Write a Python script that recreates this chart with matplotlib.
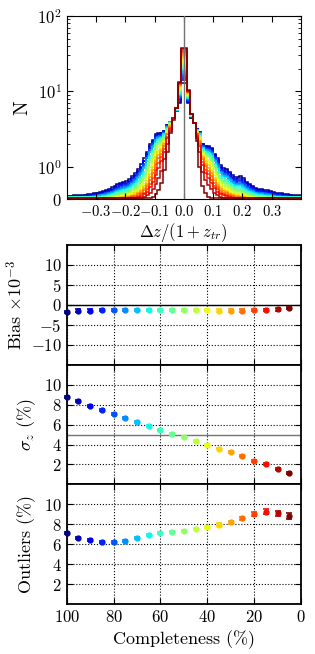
import numpy as np
import matplotlib
matplotlib.use('Agg')
import matplotlib.pyplot as plt
from matplotlib.ticker import FixedLocator, NullFormatter

# completeness levels, one colour each (jet)
completeness = [100, 95, 90, 85, 80, 75, 70, 65, 60, 55, 50, 45, 40, 35, 30, 25, 20, 15, 10, 5]

bias = [-1.8, -1.4, -1.4, -1.3, -1.25, -1.25, -1.25, -1.25, -1.25, -1.25,
        -1.3, -1.3, -1.3, -1.4, -1.4, -1.4, -1.3, -1.25, -1.1, -0.8]
bias_err = [0.3] * 20
sigma = [8.83, 8.33, 7.87, 7.47, 7.07, 6.67, 6.27, 5.87, 5.47, 5.1,
         4.73, 4.37, 4.0, 3.6, 3.2, 2.8, 2.37, 2.0, 1.53, 1.1]
sigma_err = [0.1] * 20
outliers = [7.17, 6.63, 6.4, 6.23, 6.23, 6.37, 6.63, 6.9, 7.1, 7.23,
            7.37, 7.57, 7.73, 7.97, 8.2, 8.6, 9.07, 9.27, 9.1, 8.83]
outliers_err = [0.1, 0.1, 0.1, 0.1, 0.1, 0.1, 0.1, 0.1, 0.1, 0.1,
                0.1, 0.1, 0.1, 0.12, 0.14, 0.16, 0.2, 0.22, 0.27, 0.33]

# histogram counts, bins of 0.01, listed from dz=0 outwards (left wing / right wing)
hl_100 = [13, 7, 5.5, 4.5, 4.0, 3.6, 3.0, 2.8, 2.8, 2.7, 2.3, 2.0, 1.6, 1.3, 1.1, 0.95, 0.82, 0.72, 0.62, 0.56,
          0.55, 0.52, 0.47, 0.42, 0.37, 0.33, 0.28, 0.25, 0.22, 0.2, 0.18, 0.16, 0.15, 0.14, 0.13, 0.13, 0.12, 0.12, 0.11, 0.1]
hr_100 = [13, 7, 4.5, 3.8, 3.2, 2.9, 2.0, 1.9, 1.9, 1.8, 1.5, 1.3, 1.05, 0.97, 0.95, 0.85, 0.75, 0.68, 0.7, 0.72,
          0.65, 0.55, 0.47, 0.42, 0.36, 0.33, 0.32, 0.3, 0.29, 0.27, 0.22, 0.2, 0.19, 0.18, 0.17, 0.15, 0.14, 0.13, 0.12, 0.12]
hl_95 = [14, 7.3, 5.5, 4.5, 4.0, 3.6, 3.0, 2.8, 2.7, 2.6, 2.2, 1.9, 1.5, 1.2, 1.0, 0.88, 0.76, 0.67, 0.58, 0.52,
         0.51, 0.48, 0.43, 0.38, 0.33, 0.29, 0.25, 0.22, 0.19, 0.18, 0.16, 0.14, 0.13, 0.12, 0.11, 0.11, 0.1, 0.1, 0.092, 0.09]
hr_95 = [14, 7.2, 4.5, 3.8, 3.2, 2.9, 2.0, 1.9, 1.85, 1.75, 1.45, 1.25, 1.0, 0.92, 0.9, 0.8, 0.7, 0.63, 0.65, 0.66,
         0.6, 0.5, 0.43, 0.38, 0.32, 0.29, 0.28, 0.26, 0.25, 0.23, 0.19, 0.17, 0.16, 0.15, 0.14, 0.13, 0.12, 0.11, 0.1, 0.1]
hl_90 = [15, 7.7, 5.5, 4.5, 4.0, 3.5, 2.9, 2.7, 2.7, 2.5, 2.1, 1.8, 1.5, 1.2, 0.98, 0.84, 0.72, 0.63, 0.53, 0.48,
         0.46, 0.43, 0.39, 0.34, 0.3, 0.26, 0.22, 0.2, 0.17, 0.15, 0.14, 0.12, 0.11, 0.1, 0.095, 0.094, 0.087, 0.086, 0.085, 0.085]
hr_90 = [15, 7.4, 4.6, 3.8, 3.2, 2.8, 1.9, 1.8, 1.8, 1.7, 1.4, 1.2, 0.96, 0.87, 0.85, 0.75, 0.66, 0.59, 0.6, 0.61,
         0.55, 0.46, 0.39, 0.34, 0.29, 0.26, 0.25, 0.24, 0.23, 0.21, 0.17, 0.15, 0.14, 0.13, 0.12, 0.11, 0.1, 0.092, 0.085, 0.085]
hl_85 = [16, 8.0, 5.6, 4.5, 3.9, 3.5, 2.9, 2.6, 2.6, 2.5, 2.1, 1.8, 1.4, 1.1, 0.93, 0.79, 0.67, 0.58, 0.49, 0.44,
         0.43, 0.4, 0.35, 0.31, 0.27, 0.24, 0.2, 0.17, 0.15, 0.135, 0.12, 0.105, 0.097, 0.089, 0.081, 0.08, 0.08, 0.08, 0.08, 0.08]
hr_85 = [16, 7.5, 4.6, 3.8, 3.15, 2.8, 1.9, 1.8, 1.76, 1.64, 1.35, 1.15, 0.92, 0.83, 0.8, 0.71, 0.62, 0.55, 0.56, 0.57,
         0.5, 0.42, 0.35, 0.31, 0.26, 0.24, 0.23, 0.21, 0.2, 0.18, 0.15, 0.13, 0.12, 0.11, 0.106, 0.093, 0.085, 0.08, 0.08, 0.08]
hl_80 = [17, 8.4, 5.6, 4.5, 3.9, 3.5, 2.8, 2.6, 2.5, 2.4, 2.0, 1.7, 1.3, 1.06, 0.88, 0.75, 0.63, 0.54, 0.46, 0.41,
         0.39, 0.36, 0.32, 0.28, 0.24, 0.21, 0.18, 0.15, 0.13, 0.12, 0.104, 0.091, 0.084, 0.076, 0.075, 0.075, 0.075, 0.075, 0.075, 0.075]
hr_80 = [17, 7.7, 4.6, 3.8, 3.1, 2.8, 1.9, 1.75, 1.7, 1.6, 1.3, 1.1, 0.88, 0.79, 0.76, 0.67, 0.58, 0.51, 0.52, 0.52,
         0.46, 0.38, 0.32, 0.28, 0.24, 0.21, 0.2, 0.18, 0.17, 0.16, 0.13, 0.11, 0.106, 0.098, 0.09, 0.08, 0.075, 0.075, 0.075, 0.075]
hl_75 = [18, 8.7, 5.7, 4.5, 3.9, 3.4, 2.8, 2.5, 2.5, 2.3, 1.9, 1.6, 1.3, 1.0, 0.83, 0.7, 0.59, 0.51, 0.42, 0.37,
         0.36, 0.33, 0.29, 0.25, 0.22, 0.19, 0.16, 0.14, 0.12, 0.1, 0.091, 0.079, 0.072, 0.07, 0.07, 0.07, 0.07, 0.07, 0.07, 0.07]
hr_75 = [18, 7.9, 4.7, 3.8, 3.1, 2.8, 1.85, 1.7, 1.7, 1.55, 1.25, 1.06, 0.84, 0.75, 0.72, 0.63, 0.54, 0.48, 0.48, 0.48,
         0.42, 0.35, 0.29, 0.25, 0.21, 0.19, 0.18, 0.16, 0.15, 0.14, 0.11, 0.098, 0.091, 0.084, 0.078, 0.07, 0.07, 0.07, 0.07, 0.07]
hl_70 = [19, 9.0, 5.7, 4.5, 3.9, 3.4, 2.7, 2.5, 2.4, 2.25, 1.86, 1.57, 1.2, 0.96, 0.79, 0.66, 0.55, 0.47, 0.39, 0.34,
         0.33, 0.3, 0.26, 0.23, 0.2, 0.17, 0.14, 0.12, 0.1, 0.09, 0.079, 0.068, 0.066, 0.066, 0.066, 0.066, 0.066, 0.066, 0.066, 0.066]
hr_70 = [19, 8.1, 4.7, 3.8, 3.1, 2.7, 1.8, 1.7, 1.6, 1.5, 1.2, 1.0, 0.8, 0.71, 0.68, 0.59, 0.5, 0.44, 0.44, 0.44,
         0.39, 0.32, 0.26, 0.23, 0.19, 0.17, 0.16, 0.14, 0.135, 0.12, 0.097, 0.085, 0.078, 0.072, 0.067, 0.066, 0.066, 0.066, 0.066, 0.066]
hl_65 = [20, 9.4, 5.7, 4.5, 3.8, 3.3, 2.7, 2.4, 2.3, 2.1, 1.7, 1.4, 1.1, 0.86, 0.7, 0.58, 0.48, 0.41, 0.34, 0.29,
         0.28, 0.25, 0.22, 0.19, 0.16, 0.13, 0.11, 0.094, 0.079, 0.069, 0.062, 0.062, 0.062, 0.062, 0.062, 0.062, 0.062, 0.062, 0.062, 0.062]
hr_65 = [20, 8.3, 4.7, 3.8, 3.1, 2.7, 1.8, 1.6, 1.55, 1.4, 1.1, 0.94, 0.73, 0.65, 0.61, 0.52, 0.44, 0.38, 0.38, 0.37,
         0.33, 0.26, 0.22, 0.19, 0.15, 0.13, 0.125, 0.11, 0.1, 0.093, 0.073, 0.064, 0.062, 0.062, 0.062, 0.062, 0.062, 0.062, 0.062, 0.062]
hl_60 = [21, 9.7, 5.8, 4.5, 3.8, 3.2, 2.6, 2.3, 2.2, 2.0, 1.6, 1.3, 1.0, 0.78, 0.63, 0.51, 0.42, 0.35, 0.29, 0.25,
         0.23, 0.21, 0.18, 0.15, 0.13, 0.11, 0.086, 0.073, 0.061, 0.058, 0.058, 0.058, 0.058, 0.058, 0.058, 0.058, 0.058, 0.058, 0.058, 0.058]
hr_60 = [21, 8.4, 4.8, 3.8, 3.0, 2.6, 1.7, 1.55, 1.5, 1.3, 1.05, 0.86, 0.66, 0.58, 0.54, 0.46, 0.38, 0.33, 0.32, 0.32,
         0.27, 0.22, 0.18, 0.15, 0.12, 0.11, 0.098, 0.088, 0.08, 0.07, 0.058, 0.058, 0.058, 0.058, 0.058, 0.058, 0.058, 0.058, 0.058, 0.058]
hl_55 = [22, 10, 5.8, 4.5, 3.8, 3.2, 2.5, 2.2, 2.1, 1.9, 1.5, 1.25, 0.94, 0.72, 0.58, 0.47, 0.38, 0.32, 0.26, 0.22,
         0.2, 0.18, 0.15, 0.13, 0.11, 0.091, 0.073, 0.062, 0.055, 0.055, 0.055, 0.055, 0.055, 0.055, 0.055, 0.055, 0.055, 0.055, 0.055, 0.055]
hr_55 = [22, 8.6, 4.8, 3.8, 3.0, 2.6, 1.7, 1.5, 1.4, 1.27, 1.0, 0.81, 0.62, 0.54, 0.5, 0.42, 0.35, 0.3, 0.29, 0.28,
         0.24, 0.19, 0.15, 0.13, 0.105, 0.091, 0.083, 0.074, 0.067, 0.06, 0.055, 0.055, 0.055, 0.055, 0.055, 0.055, 0.055, 0.055, 0.055, 0.055]
hl_50 = [23, 10.4, 5.9, 4.5, 3.7, 3.1, 2.45, 2.1, 2.0, 1.8, 1.44, 1.17, 0.87, 0.66, 0.53, 0.42, 0.34, 0.28, 0.23, 0.19,
         0.175, 0.155, 0.13, 0.11, 0.09, 0.075, 0.06, 0.052, 0.052, 0.052, 0.052, 0.052, 0.052, 0.052, 0.052, 0.052, 0.052, 0.052, 0.052, 0.052]
hr_50 = [23, 8.8, 4.9, 3.8, 3.0, 2.5, 1.6, 1.45, 1.36, 1.2, 0.94, 0.76, 0.57, 0.5, 0.45, 0.38, 0.31, 0.27, 0.26, 0.25,
         0.21, 0.16, 0.13, 0.11, 0.088, 0.075, 0.068, 0.06, 0.054, 0.052, 0.052, 0.052, 0.052, 0.052, 0.052, 0.052, 0.052, 0.052, 0.052, 0.052]
hl_45 = [24.5, 10.7, 5.9, 4.5, 3.7, 3.0, 2.3, 2.0, 1.85, 1.6, 1.3, 1.0, 0.76, 0.56, 0.44, 0.35, 0.28, 0.22, 0.18, 0.15,
         0.13, 0.116, 0.096, 0.079, 0.064, 0.054, 0.05, 0.05, 0.05, 0.05, 0.05, 0.05, 0.05, 0.05, 0.05, 0.05, 0.05, 0.05, 0.05, 0.05]
hr_45 = [24.5, 9.0, 4.9, 3.8, 2.9, 2.45, 1.56, 1.36, 1.25, 1.1, 0.84, 0.67, 0.5, 0.42, 0.38, 0.31, 0.25, 0.21, 0.2, 0.19,
         0.16, 0.12, 0.096, 0.079, 0.063, 0.054, 0.05, 0.05, 0.05, 0.05, 0.05, 0.05, 0.05, 0.05, 0.05, 0.05, 0.05, 0.05, 0.05, 0.05]
hl_40 = [26, 11.1, 5.9, 4.5, 3.6, 2.9, 2.2, 1.9, 1.7, 1.5, 1.14, 0.9, 0.65, 0.48, 0.37, 0.29, 0.22, 0.18, 0.14, 0.11,
         0.1, 0.086, 0.07, 0.057, 0.048, 0.048, 0.048, 0.048, 0.048, 0.048, 0.048, 0.048, 0.048, 0.048, 0.048, 0.048, 0.048, 0.048, 0.048, 0.048]
hr_40 = [26, 9.2, 4.9, 3.8, 2.9, 2.4, 1.5, 1.3, 1.15, 0.99, 0.75, 0.59, 0.43, 0.36, 0.32, 0.26, 0.2, 0.17, 0.16, 0.145,
         0.12, 0.091, 0.07, 0.057, 0.048, 0.048, 0.048, 0.048, 0.048, 0.048, 0.048, 0.048, 0.048, 0.048, 0.048, 0.048, 0.048, 0.048, 0.048, 0.048]
hl_35 = [27, 11.4, 6.0, 4.5, 3.6, 2.85, 2.1, 1.75, 1.56, 1.34, 1.0, 0.79, 0.56, 0.41, 0.3, 0.23, 0.18, 0.14, 0.11, 0.087,
         0.076, 0.064, 0.051, 0.046, 0.046, 0.046, 0.046, 0.046, 0.046, 0.046, 0.046, 0.046, 0.046, 0.046, 0.046, 0.046, 0.046, 0.046, 0.046, 0.046]
hr_35 = [27, 9.3, 5.0, 3.8, 2.85, 2.3, 1.4, 1.2, 1.06, 0.9, 0.66, 0.51, 0.37, 0.3, 0.26, 0.21, 0.165, 0.13, 0.12, 0.11,
         0.09, 0.068, 0.051, 0.046, 0.046, 0.046, 0.046, 0.046, 0.046, 0.046, 0.046, 0.046, 0.046, 0.046, 0.046, 0.046, 0.046, 0.046, 0.046, 0.046]
hl_30 = [29, 11.8, 6.0, 4.5, 3.5, 2.75, 2.0, 1.64, 1.44, 1.2, 0.9, 0.69, 0.48, 0.34, 0.25, 0.19, 0.144, 0.11, 0.084, 0.066,
         0.057, 0.05, 0.044, 0.044, 0.044, 0.044, 0.044, 0.044, 0.044, 0.044, 0.044, 0.044, 0.044, 0.044, 0.044, 0.044, 0.044, 0.044, 0.044, 0.044]
hr_30 = [29, 9.5, 5.0, 3.8, 2.8, 2.2, 1.34, 1.1, 0.97, 0.81, 0.59, 0.45, 0.32, 0.26, 0.22, 0.17, 0.13, 0.105, 0.095, 0.085,
         0.067, 0.05, 0.044, 0.044, 0.044, 0.044, 0.044, 0.044, 0.044, 0.044, 0.044, 0.044, 0.044, 0.044, 0.044, 0.044, 0.044, 0.044, 0.044, 0.044]
hl_25 = [30, 12.1, 6.0, 4.5, 3.4, 2.7, 1.9, 1.5, 1.3, 1.1, 0.8, 0.6, 0.41, 0.29, 0.21, 0.16, 0.116, 0.087, 0.064, 0.05,
         0.042, 0.042, 0.042, 0.042, 0.042, 0.042, 0.042, 0.042, 0.042, 0.042, 0.042, 0.042, 0.042, 0.042, 0.042, 0.042, 0.042, 0.042, 0.042, 0.042]
hr_25 = [30, 9.7, 5.0, 3.8, 2.75, 2.15, 1.27, 1.04, 0.89, 0.73, 0.52, 0.39, 0.27, 0.21, 0.18, 0.14, 0.106, 0.082, 0.073, 0.064,
         0.05, 0.042, 0.042, 0.042, 0.042, 0.042, 0.042, 0.042, 0.042, 0.042, 0.042, 0.042, 0.042, 0.042, 0.042, 0.042, 0.042, 0.042, 0.042, 0.042]
hl_20 = [32, 12.4, 6.0, 4.5, 3.3, 2.5, 1.75, 1.36, 1.14, 0.92, 0.65, 0.47, 0.32, 0.21, 0.15, 0.11, 0.079, 0.058, 0.04, 0.04,
         0.04, 0.04, 0.04, 0.04, 0.04, 0.04, 0.04, 0.04, 0.04, 0.04, 0.04, 0.04, 0.04, 0.04, 0.04, 0.04, 0.04, 0.04, 0.04, 0.04]
hr_20 = [32, 9.9, 5.0, 3.8, 2.7, 2.0, 1.16, 0.92, 0.77, 0.61, 0.42, 0.31, 0.21, 0.16, 0.13, 0.098, 0.072, 0.054, 0.04, 0.04,
         0.04, 0.04, 0.04, 0.04, 0.04, 0.04, 0.04, 0.04, 0.04, 0.04, 0.04, 0.04, 0.04, 0.04, 0.04, 0.04, 0.04, 0.04, 0.04, 0.04]
hl_15 = [34, 12.8, 6.0, 4.5, 3.2, 2.4, 1.6, 1.2, 0.98, 0.76, 0.53, 0.37, 0.24, 0.16, 0.11, 0.076, 0.055, 0.038, 0.038, 0.038,
         0.038, 0.038, 0.038, 0.038, 0.038, 0.038, 0.038, 0.038, 0.038, 0.038, 0.038, 0.038, 0.038, 0.038, 0.038, 0.038, 0.038, 0.038, 0.038, 0.038]
hr_15 = [34, 10.1, 5.0, 3.8, 2.6, 1.9, 1.06, 0.82, 0.66, 0.51, 0.34, 0.24, 0.16, 0.12, 0.093, 0.068, 0.05, 0.038, 0.038, 0.038,
         0.038, 0.038, 0.038, 0.038, 0.038, 0.038, 0.038, 0.038, 0.038, 0.038, 0.038, 0.038, 0.038, 0.038, 0.038, 0.038, 0.038, 0.038, 0.038, 0.038]
hl_10 = [36, 13.1, 6.0, 4.4, 3.0, 2.0, 1.26, 0.88, 0.66, 0.48, 0.31, 0.2, 0.12, 0.073, 0.05, 0.036, 0.036, 0.036, 0.036, 0.036,
         0.036, 0.036, 0.036, 0.036, 0.036, 0.036, 0.036, 0.036, 0.036, 0.036, 0.036, 0.036, 0.036, 0.036, 0.036, 0.036, 0.036, 0.036, 0.036, 0.036]
hr_10 = [36, 10.2, 5.0, 3.8, 2.4, 1.6, 0.84, 0.6, 0.45, 0.32, 0.2, 0.13, 0.079, 0.054, 0.036, 0.036, 0.036, 0.036, 0.036, 0.036,
         0.036, 0.036, 0.036, 0.036, 0.036, 0.036, 0.036, 0.036, 0.036, 0.036, 0.036, 0.036, 0.036, 0.036, 0.036, 0.036, 0.036, 0.036, 0.036, 0.036]
hl_5 = [38, 13.5, 6.0, 4.2, 2.8, 1.6, 0.9, 0.5, 0.3, 0.15, 0.08, 0.05, 0.034, 0.034, 0.034, 0.034, 0.034, 0.034, 0.034, 0.034,
        0.034, 0.034, 0.034, 0.034, 0.034, 0.034, 0.034, 0.034, 0.034, 0.034, 0.034, 0.034, 0.034, 0.034, 0.034, 0.034, 0.034, 0.034, 0.034, 0.034]
hr_5 = [38, 10.5, 5.0, 3.8, 2.2, 1.0, 0.4, 0.18, 0.08, 0.05, 0.034, 0.034, 0.034, 0.034, 0.034, 0.034, 0.034, 0.034, 0.034, 0.034,
        0.034, 0.034, 0.034, 0.034, 0.034, 0.034, 0.034, 0.034, 0.034, 0.034, 0.034, 0.034, 0.034, 0.034, 0.034, 0.034, 0.034, 0.034, 0.034, 0.034]

hist_left = {100: hl_100, 95: hl_95, 90: hl_90, 85: hl_85, 80: hl_80, 75: hl_75, 70: hl_70,
             65: hl_65, 60: hl_60, 55: hl_55, 50: hl_50, 45: hl_45, 40: hl_40, 35: hl_35,
             30: hl_30, 25: hl_25, 20: hl_20, 15: hl_15, 10: hl_10, 5: hl_5}
hist_right = {100: hr_100, 95: hr_95, 90: hr_90, 85: hr_85, 80: hr_80, 75: hr_75, 70: hr_70,
              65: hr_65, 60: hr_60, 55: hr_55, 50: hr_50, 45: hr_45, 40: hr_40, 35: hr_35,
              30: hr_30, 25: hr_25, 20: hr_20, 15: hr_15, 10: hr_10, 5: hr_5}

plt.rcParams.update({
    'font.family': 'serif',
    'font.serif': ['cmr10'],
    'mathtext.fontset': 'cm',
    'axes.formatter.use_mathtext': True,
    'axes.unicode_minus': True,
    'font.size': 12,
    'xtick.direction': 'in',
    'ytick.direction': 'in',
    'xtick.top': True,
    'ytick.right': True,
    'xtick.major.size': 4,
    'ytick.major.size': 4,
    'xtick.minor.size': 2,
    'ytick.minor.size': 2,
})

fig = plt.figure(figsize=(3.15, 6.54), dpi=100)
colors = plt.cm.jet(np.linspace(0, 1, len(completeness)))

# ---- top: dz histograms ----
ax0 = fig.add_axes([0.2117, 0.6953, 0.7438, 0.2803])
edges = np.linspace(-0.4, 0.4, 81)
for c, col in zip(completeness, colors):
    left = hist_left[c]
    right = hist_right[c]
    assert len(left) == 40 and len(right) == 40, c
    ax0.stairs(left[::-1] + right, edges, color=col, lw=1.1, baseline=None)
ax0.axvline(0, color='0.45', lw=1, zorder=5)
ax0.set_yscale('symlog', linthresh=1, linscale=0.384)
ax0.set_ylim(0, 100)
ax0.set_xlim(-0.4, 0.4)
ax0.set_xticks([-0.3, -0.2, -0.1, 0, 0.1, 0.2, 0.3])
ax0.set_yticks([0, 1, 10, 100])
ax0.yaxis.set_minor_locator(FixedLocator([2, 3, 4, 5, 6, 7, 8, 9, 20, 30, 40, 50, 60, 70, 80, 90]))
ax0.yaxis.set_minor_formatter(NullFormatter())
ax0.tick_params(axis='x', labelsize=10.5)
ax0.set_xlabel(r'$\Delta z/(1+z_{tr})$', fontsize=12, labelpad=1)
ax0.set_ylabel('N', fontsize=14)

# ---- bottom: statistics vs completeness ----
ax1 = fig.add_axes([0.2117, 0.4419, 0.7438, 0.1835])
ax2 = fig.add_axes([0.2117, 0.2595, 0.7438, 0.1824], sharex=ax1)
ax3 = fig.add_axes([0.2117, 0.0760, 0.7438, 0.1835], sharex=ax1)

for ax, vals, errs in [(ax1, bias, bias_err), (ax2, sigma, sigma_err), (ax3, outliers, outliers_err)]:
    for x, y, e, col in zip(completeness, vals, errs, colors):
        ax.errorbar(x, y, yerr=e, fmt='o', color=col, mec=col, ms=3.5, capsize=2.5,
                    elinewidth=1, capthick=1.2, zorder=4, clip_on=False)
    ax.grid(True, linestyle=':', color='k', linewidth=0.8)
    for sp in ax.spines.values():
        sp.set_linewidth(1.3)

ax1.axhline(0, color='k', lw=1)
ax1.set_ylim(-15, 15)
ax1.set_yticks([-10, -5, 0, 5, 10])
ax1.set_ylabel(r'Bias $\times 10^{-3}$', fontsize=13)

ax2.axhline(5, color='0.45', lw=1)
ax2.set_ylim(0, 12)
ax2.set_yticks([2, 4, 6, 8, 10])
ax2.set_ylabel(r'$\sigma_z$ ($\%$)', fontsize=13)

ax3.set_ylim(0, 12)
ax3.set_yticks([2, 4, 6, 8, 10])
ax3.set_ylabel(r'Outliers ($\%$)', fontsize=13)

ax3.set_xlim(100, 0)
ax3.set_xticks([100, 80, 60, 40, 20, 0])
ax3.set_xlabel(r'Completeness ($\%$)', fontsize=13, labelpad=2)
ax1.tick_params(labelbottom=False)
ax2.tick_params(labelbottom=False)

fig.savefig('out.png', dpi=100)
